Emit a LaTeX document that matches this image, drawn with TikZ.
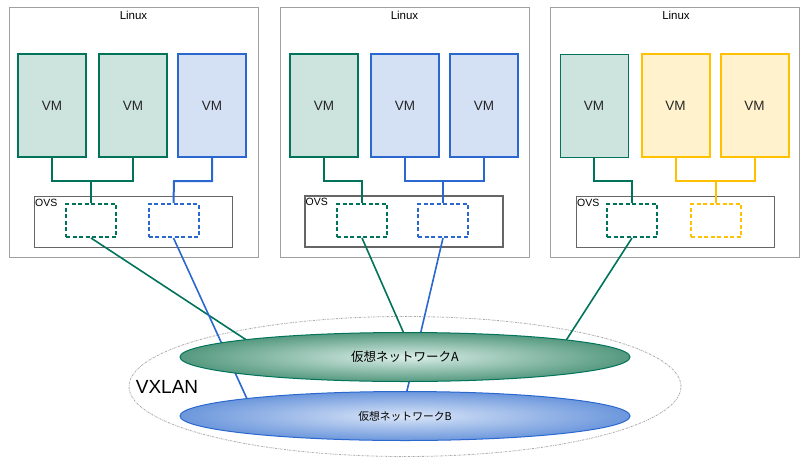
\documentclass[tikz,border=0pt]{standalone}
\usepackage{fontspec}
\setmainfont{Liberation Sans}
\newfontfamily\jpfont{Noto Sans CJK JP}
\usetikzlibrary{shapes.geometric}
\definecolor{gline}{HTML}{00735A}
\definecolor{gfill}{HTML}{CDE3DE}
\definecolor{bline}{HTML}{2A68D0}
\definecolor{bfill}{HTML}{D4E1F5}
\definecolor{yline}{HTML}{FFC000}
\definecolor{yfill}{HTML}{FFF2CC}
\definecolor{linuxgray}{HTML}{A0A0A0}
\definecolor{ovsgray}{HTML}{666666}
\definecolor{vxgray}{HTML}{AAAAAA}
\definecolor{gout}{HTML}{55997F}
\definecolor{gin}{HTML}{DAEEE8}
\definecolor{bout}{HTML}{6C97DC}
\definecolor{bin}{HTML}{D9E5F8}
\begin{document}
\begin{tikzpicture}[x=1pt,y=-1pt,
  linuxbox/.style={draw=linuxgray, line width=1pt, minimum width=249pt, minimum height=250pt, inner sep=0pt},
  linuxlabel/.style={inner sep=0pt, font=\fontsize{11.5}{13}\selectfont},
  vm/.style={line width=2pt, minimum width=68pt, minimum height=103pt, inner sep=0pt, text=black!85, font=\fontsize{13.5}{15}\selectfont},
  vmg/.style={vm, draw=gline, fill=gfill},
  vmb/.style={vm, draw=bline, fill=bfill},
  vmy/.style={vm, draw=yline, fill=yfill},
  ovsbox/.style={draw=ovsgray, line width=1pt, minimum width=198pt, minimum height=51pt, inner sep=0pt},
  ovslabel/.style={anchor=north west, inner sep=0pt, font=\fontsize{10.5}{12}\selectfont},
  port/.style={line width=2pt, dash pattern=on 4pt off 2.5pt, minimum width=50pt, minimum height=33pt, inner sep=0pt},
  conn/.style={line width=2pt},
  tunnel/.style={line width=1.6pt},
  net/.style={ellipse, line width=1pt, minimum width=450pt, minimum height=49pt, inner sep=0pt}
]
\useasboundingbox (0,0) rectangle (808,466);

% Linux hosts
\node[linuxbox] (L1) at (133.5,132) {};
\node[linuxbox] (L2) at (404.5,132) {};
\node[linuxbox] (L3) at (674.5,132) {};
\node[linuxlabel] (t1) at (133.5,15.5) {Linux};
\node[linuxlabel] (t2) at (404.5,15.5) {Linux};
\node[linuxlabel] (t3) at (676,15.5) {Linux};

% VMs
\node[vmg] (v11) at (52,105.5) {VM};
\node[vmg] (v12) at (133,105.5) {VM};
\node[vmb] (v13) at (212,105.5) {VM};
\node[vmg] (v21) at (324,105.5) {VM};
\node[vmb] (v22) at (405,105.5) {VM};
\node[vmb] (v23) at (484,105.5) {VM};
\node[vmg, line width=1pt] (v31) at (594,106) {VM};
\node[vmy] (v32) at (675.5,105.5) {VM};
\node[vmy] (v33) at (754.5,105.5) {VM};

% OVS boxes
\node[ovsbox] (o1) at (133,221.5) {};
\node[ovsbox, line width=2pt] (o2) at (404,221) {};
\node[ovsbox] (o3) at (675,221.5) {};
\node[ovslabel] (ol1) at ([xshift=1.5pt,yshift=-3.5pt]o1.north west) {OVS};
\node[ovslabel] (ol2) at ([xshift=1.5pt,yshift=-3.5pt]o2.north west) {OVS};
\node[ovslabel] (ol3) at ([xshift=1.5pt,yshift=-3.5pt]o3.north west) {OVS};

% ports
\node[port, draw=gline] (p11) at (91,220.5) {};
\node[port, draw=bline] (p12) at (173.5,220.5) {};
\node[port, draw=gline] (p21) at (362,220.5) {};
\node[port, draw=bline] (p22) at (443,220.5) {};
\node[port, draw=gline] (p31) at (632,220.5) {};
\node[port, draw=yline] (p32) at (716,220.5) {};

% junctions
\coordinate (j11) at (91,181);
\coordinate (j12) at (174,181);
\coordinate (j21) at (362,181);
\coordinate (j22) at (443,181);
\coordinate (j31) at (632,181);
\coordinate (j32) at (716,181);

% VM to OVS connectors
\draw[conn, gline] (v11.south) |- (j11) -| (v12.south);
\draw[conn, gline] (j11) -- (p11.north);
\draw[conn, bline] (v13.south) |- (j12) -- (p12.north);
\draw[conn, gline] (v21.south) |- (j21) -- (p21.north);
\draw[conn, bline] (v22.south) |- (j22) -| (v23.south);
\draw[conn, bline] (j22) -- (p22.north);
\draw[conn, gline] (v31.south) |- (j31) -- (p31.north);
\draw[conn, yline] (v32.south) |- (j32) -| (v33.south);
\draw[conn, yline] (j32) -- (p32.north);

% VXLAN outer
\node[ellipse, draw=vxgray, line width=0.8pt, dash pattern=on 2pt off 1pt on 0.6pt off 1pt, minimum width=552pt, minimum height=140pt, inner sep=0pt] (vx) at (405,386.5) {};
\node[inner sep=0pt, font=\fontsize{19}{21}\selectfont] (vxl) at (167,387) {VXLAN};

% tunnel end points
\coordinate (e11) at (248,341);
\coordinate (e12) at (248,401);
\coordinate (e21) at (405,336);
\coordinate (e22) at (406,395);
\coordinate (e31) at (565,342);

\draw[tunnel, gline] (p11.south) -- (e11);
\draw[tunnel, bline] (p12.south) -- (e12);
\draw[tunnel, gline] (p21.south) -- (e21);
\draw[tunnel, bline] (p22.south) -- (e22);
\draw[tunnel, gline] (p31.south) -- (e31);

% virtual networks
\node[net, draw=bline, inner color=bin, outer color=bout, font=\jpfont\fontsize{10.8}{12}\selectfont] (nB) at (405,416) {仮想ネットワークB};
\node[net, draw=gline, inner color=gin, outer color=gout, font=\jpfont\fontsize{12.5}{14}\selectfont] (nA) at (405,357) {仮想ネットワークA};
\end{tikzpicture}
\end{document}
